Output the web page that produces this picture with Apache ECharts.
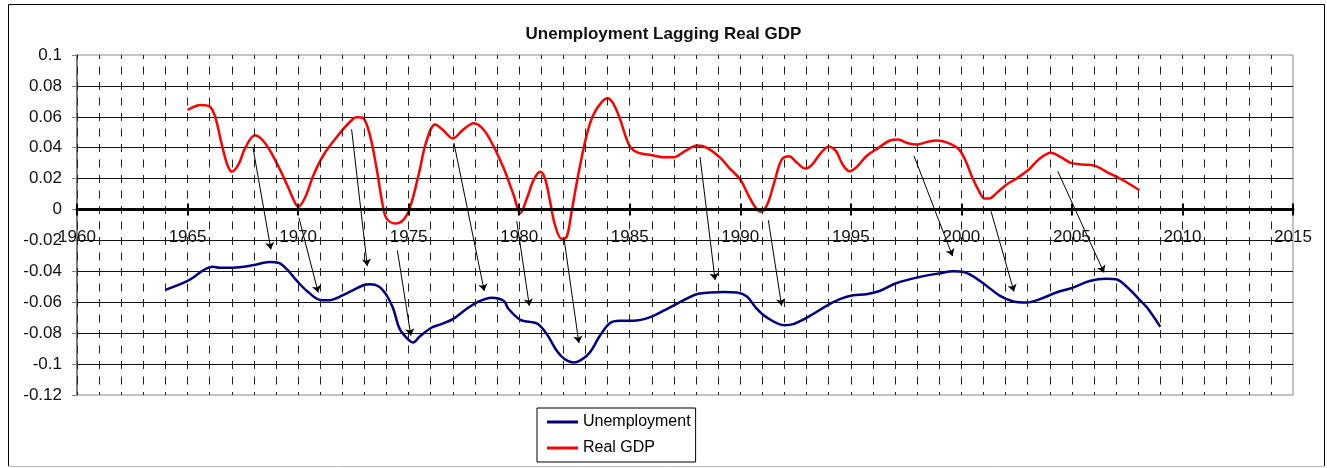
<!DOCTYPE html>
<html><head><meta charset="utf-8">
<script src="https://cdn.jsdelivr.net/npm/echarts@6/dist/echarts.min.js"></script>
<style>html,body{margin:0;padding:0;background:#fff}#c{width:1327px;height:468px}</style>
</head><body><div id="c"></div>
<script>
const titleText = 'Unemployment Lagging Real GDP';
const seriesNames = ['Unemployment', 'Real GDP'];

const gdpYears = [1965.0,1965.6,1966.0,1966.25,1966.55,1966.8,1967.0,1967.3,1967.6,1968.05,1968.5,1969.0,1969.5,1969.8,1970.0,1970.3,1970.7,1971.15,1971.75,1972.35,1972.65,1972.92,1973.25,1973.55,1973.8,1974.0,1974.4,1974.75,1975.05,1975.45,1975.8,1976.2,1976.55,1977.0,1977.45,1977.95,1978.4,1978.85,1979.3,1979.75,1980.05,1980.35,1980.65,1980.95,1981.17,1981.4,1981.62,1981.92,1982.15,1982.37,1982.67,1983.05,1983.35,1983.75,1984.0,1984.25,1984.55,1984.85,1985.05,1985.4,1986.0,1986.5,1987.0,1987.5,1988.05,1988.5,1989.1,1989.5,1990.0,1990.35,1990.7,1990.95,1991.25,1991.55,1991.88,1992.2,1992.57,1992.95,1993.25,1993.65,1994.0,1994.33,1994.63,1994.95,1995.3,1995.7,1996.25,1996.77,1997.15,1997.55,1998.0,1998.45,1998.9,1999.5,1999.9,2000.2,2000.5,2000.8,2001.05,2001.25,2001.6,2002.05,2002.5,2003.05,2003.5,2004.05,2004.5,2004.95,2005.5,2006.0,2006.65,2007.4,2008.05];
const gdpValues = [0.0644,0.0676,0.0666,0.060,0.042,0.029,0.0245,0.029,0.0396,0.048,0.043,0.031,0.016,0.0062,0.0018,0.0073,0.0224,0.0353,0.047,0.0568,0.0597,0.0594,0.048,0.0267,0.0051,-0.0057,-0.009,-0.0068,0.0008,0.0224,0.0439,0.0551,0.0515,0.046,0.0515,0.0558,0.0515,0.0407,0.0267,0.0094,-0.0024,0.0073,0.019,0.0245,0.020,0.005,-0.010,-0.019,-0.0176,-0.0014,0.0224,0.048,0.0612,0.0698,0.072,0.0687,0.059,0.046,0.0399,0.0367,0.0352,0.0339,0.0339,0.0378,0.0414,0.0399,0.0334,0.027,0.0194,0.0097,0.0011,-0.0015,0.0043,0.0183,0.0324,0.0345,0.0302,0.0265,0.0291,0.0367,0.0406,0.0378,0.0291,0.0248,0.028,0.0345,0.0399,0.0447,0.0453,0.0431,0.0421,0.0438,0.0447,0.0425,0.0388,0.0313,0.0205,0.0119,0.0071,0.0071,0.0108,0.0162,0.0201,0.0259,0.0324,0.0367,0.0339,0.0302,0.0291,0.0285,0.0237,0.0183,0.0125];

const unempYears = [1964.0,1965.0,1966.15,1966.45,1967.05,1967.95,1968.7,1969.1,1969.5,1969.95,1970.4,1971.0,1971.4,1972.2,1972.95,1973.25,1973.65,1974.0,1974.3,1974.6,1975.0,1975.2,1975.5,1976.05,1976.45,1977.0,1977.6,1978.1,1978.75,1979.3,1979.5,1980.05,1980.5,1980.85,1981.25,1981.7,1982.05,1982.45,1982.75,1983.2,1983.65,1984.1,1984.55,1985.15,1985.9,1986.8,1987.6,1988.1,1988.65,1989.25,1989.85,1990.3,1990.7,1991.2,1992.0,1992.4,1993.15,1993.9,1994.5,1995.1,1995.7,1996.3,1997.05,1998.0,1999.0,1999.65,2000.1,2000.55,2001.15,2001.75,2002.35,2002.95,2003.55,2004.3,2005.05,2005.8,2006.55,2007.0,2007.6,2008.1,2008.4,2009.0];
const unempValues = [-0.052,-0.0462,-0.037,-0.0376,-0.0376,-0.0361,-0.034,-0.0344,-0.0387,-0.0462,-0.0527,-0.0585,-0.0587,-0.0542,-0.049,-0.0484,-0.0498,-0.0554,-0.064,-0.0774,-0.0843,-0.086,-0.0821,-0.0763,-0.0743,-0.0709,-0.0645,-0.060,-0.057,-0.059,-0.064,-0.0714,-0.0727,-0.0741,-0.0806,-0.0914,-0.0967,-0.0989,-0.0978,-0.0924,-0.0817,-0.0735,-0.072,-0.072,-0.0698,-0.0634,-0.0575,-0.0545,-0.0537,-0.0533,-0.0537,-0.0563,-0.0634,-0.0698,-0.0748,-0.0741,-0.0688,-0.0623,-0.058,-0.0554,-0.0548,-0.0527,-0.0477,-0.044,-0.0413,-0.040,-0.0404,-0.0434,-0.0494,-0.0559,-0.0595,-0.0602,-0.058,-0.0537,-0.0505,-0.0462,-0.0447,-0.0451,-0.0516,-0.059,-0.0634,-0.0759];

const arrowStartYears = [1967.96,1970.04,1972.42,1974.49,1977.05,1979.89,1982.03,1988.18,1991.27,1997.86,2001.34,2004.36];
const arrowStartValues = [0.040,-0.0054,0.052,-0.0264,0.043,-0.0075,-0.0189,0.034,-0.0069,0.0346,-0.0011,0.0248];
const arrowEndYears = [1968.77,1970.91,1973.13,1975.1,1978.42,1980.46,1982.7,1988.86,1991.87,1999.6,2002.38,2006.45];
const arrowEndValues = [-0.0258,-0.0537,-0.0365,-0.0817,-0.0527,-0.0623,-0.0864,-0.0456,-0.0623,-0.0301,-0.0531,-0.0408];

const xMin = 1960, xMax = 2015, xStep = 5, xMinorSplit = 5;
const yMin = -0.12, yMax = 0.1, yStep = 0.02;

const FONT = '"Liberation Sans", Arial, sans-serif';
const GRID = { left: 77, right: 34, top: 55, bottom: 73 };
const plotH = 468 - GRID.top - GRID.bottom;
// move the x axis from the grid bottom up to the value 0 line
const zeroOffset = -plotH * (0 - yMin) / (yMax - yMin);

const pairs = (xs, ys) => xs.map((x, i) => [x, ys[i]]);
const arrows = arrowStartYears.map((x, i) => [
  { coord: [x, arrowStartValues[i]] },
  { coord: [arrowEndYears[i], arrowEndValues[i]] }
]);

const chart = echarts.init(document.getElementById('c'), null, { renderer: 'canvas' });
chart.setOption({
  animation: false,
  backgroundColor: '#fff',
  title: {
    text: titleText, left: 'center', top: 21,
    textStyle: { fontFamily: FONT, fontSize: 17, fontWeight: 'bold', color: '#111' }
  },
  grid: Object.assign({ show: true, borderColor: '#888', borderWidth: 1, backgroundColor: 'transparent' }, GRID),
  legend: {
    orient: 'vertical', left: 537, top: 408,
    padding: [6, 5, 6, 10], itemGap: 10, itemWidth: 31, itemHeight: 3, icon: 'rect',
    borderColor: '#000', borderWidth: 1, backgroundColor: '#fff',
    textStyle: { fontFamily: FONT, fontSize: 16, color: '#000' },
    data: seriesNames
  },
  xAxis: [
    {
      type: 'value', min: xMin, max: xMax, interval: xStep, position: 'bottom', offset: zeroOffset,
      axisLine: { show: true, onZero: false, lineStyle: { color: '#000', width: 3 } },
      axisTick: { show: true, length: 6, lineStyle: { color: '#000', width: 2 } },
      minorTick: { show: false, splitNumber: xMinorSplit },
      axisLabel: { margin: 19, fontFamily: FONT, fontSize: 17, color: '#111', formatter: v => String(v) },
      splitLine: { show: true, showMaxLine: false, lineStyle: { color: '#222', width: 1, type: [8, 7.5], dashOffset: 4 } },
      minorSplitLine: { show: true, lineStyle: { color: '#222', width: 1, type: [8, 7.5], dashOffset: 4 } },
      z: 5
    },
    {
      type: 'value', min: xMin, max: xMax, interval: xStep, position: 'bottom', offset: zeroOffset,
      axisLine: { show: false, onZero: false },
      axisTick: { show: true, inside: true, length: 6, lineStyle: { color: '#000', width: 2 } },
      axisLabel: { show: false },
      splitLine: { show: false },
      z: 5
    }
  ],
  yAxis: {
    type: 'value', min: yMin, max: yMax, interval: yStep,
    axisLine: { show: true, lineStyle: { color: '#808080', width: 2 } },
    axisTick: { show: true, length: 5, lineStyle: { color: '#808080', width: 1 } },
    axisLabel: { margin: 15, fontFamily: FONT, fontSize: 17, color: '#111', formatter: v => String(+v.toFixed(2)) },
    splitLine: { show: true, showMinLine: false, showMaxLine: false, lineStyle: { color: '#111', width: 1 } }
  },
  series: [
    {
      name: seriesNames[0], type: 'line', data: pairs(unempYears, unempValues),
      showSymbol: false, smooth: 0.35, color: '#000080',
      lineStyle: { color: '#000080', width: 2.5 }, z: 3
    },
    {
      name: seriesNames[1], type: 'line', data: pairs(gdpYears, gdpValues),
      showSymbol: false, smooth: 0.35, color: '#ff0000',
      lineStyle: { color: '#ff0000', width: 2.5 }, z: 3,
      markLine: {
        silent: true, symbol: ['none', 'arrow'], symbolSize: 7,
        label: { show: false },
        lineStyle: { color: '#000', width: 1, type: 'solid' },
        emphasis: { disabled: true },
        data: arrows
      }
    }
  ],
  graphic: [
    { type: 'polyline', silent: true, shape: { points: [[8.5, 466], [8.5, 4.5], [1324.5, 4.5], [1324.5, 466]] }, style: { stroke: '#000', lineWidth: 1, fill: null } },
    { type: 'line', silent: true, shape: { x1: 8.5, y1: 466.5, x2: 1324.5, y2: 466.5 }, style: { stroke: '#bbb', lineWidth: 1 } }
  ]
});
</script></body></html>
